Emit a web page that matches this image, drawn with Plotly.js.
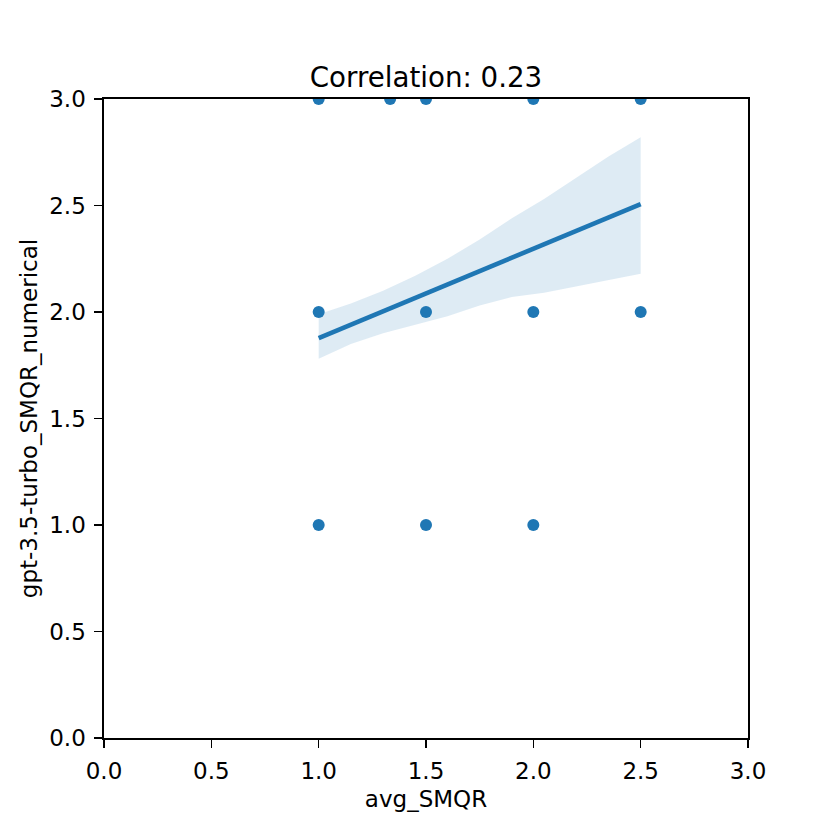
<!DOCTYPE html>
<html>
<head>
<meta charset="utf-8">
<script src="https://cdn.plot.ly/plotly-3.0.1.min.js"></script>
<style>
  html, body { margin: 0; padding: 0; background: #fff; }
  #chart { width: 830px; height: 830px; }
</style>
</head>
<body>
<div id="chart"></div>
<script>
// scatter points (avg_SMQR vs gpt-3.5-turbo_SMQR_numerical)
var pointX = [1.0, 1.333, 1.5, 2.0, 2.5, 1.0, 1.5, 2.0, 2.5, 1.0, 1.5, 2.0];
var pointY = [3, 3, 3, 3, 3, 2, 2, 2, 2, 1, 1, 1];

// regression line
var lineX = [1.0, 2.5];
var lineY = [1.877, 2.507];

// confidence band
var bandX = [1.0, 1.15, 1.3, 1.45, 1.6, 1.75, 1.9, 2.05, 2.2, 2.35, 2.5];
var bandUpper = [1.99, 2.04, 2.10, 2.17, 2.25, 2.34, 2.44, 2.53, 2.63, 2.73, 2.82];
var bandLower = [1.78, 1.85, 1.90, 1.94, 1.98, 2.03, 2.07, 2.09, 2.12, 2.15, 2.18];

var titleText = "Correlation: 0.23";
var xLabel = "avg_SMQR";
var yLabel = "gpt-3.5-turbo_SMQR_numerical";

var blue = "#1f77b4";
var font = "DejaVu Sans, sans-serif";

var traces = [
    {
        x: bandX, y: bandLower, type: "scatter", mode: "lines",
        line: { width: 0 }, hoverinfo: "skip", showlegend: false
    },
    {
        x: bandX, y: bandUpper, type: "scatter", mode: "lines",
        line: { width: 0 }, fill: "tonexty",
        fillcolor: "rgba(31,119,180,0.15)", showlegend: false
    },
    {
        x: pointX, y: pointY, type: "scatter", mode: "markers",
        cliponaxis: true,
        marker: { color: blue, size: 12 }, showlegend: false
    },
    {
        x: lineX, y: lineY, type: "scatter", mode: "lines",
        line: { color: blue, width: 4.6 }, showlegend: false
    }
];

function axis(label, standoff) {
    return {
        range: [0, 3],
        tickvals: [0, 0.5, 1, 1.5, 2, 2.5, 3],
        tickformat: ".1f",
        ticks: "outside",
        ticklen: 8,
        tickwidth: 1.6,
        tickcolor: "#000",
        ticklabelstandoff: 4,
        showline: true,
        linecolor: "#000",
        linewidth: 1.6,
        mirror: true,
        showgrid: false,
        zeroline: false,
        tickfont: { family: font, size: 23, color: "#000" },
        title: { text: label, standoff: standoff, font: { family: font, size: 23, color: "#000" } }
    };
}

var layout = {
    width: 830,
    height: 830,
    margin: { l: 104, r: 82, t: 99, b: 92 },
    paper_bgcolor: "#fff",
    plot_bgcolor: "#fff",
    title: {
        text: titleText,
        font: { family: font, size: 27.7, color: "#000" },
        x: 0.5, xref: "paper", xanchor: "center",
        y: 1, yref: "paper", yanchor: "bottom",
        pad: { b: 12 }
    },
    xaxis: axis(xLabel, 7),
    yaxis: axis(yLabel, 5),
    showlegend: false
};

Plotly.newPlot("chart", traces, layout, { staticPlot: true });
</script>
</body>
</html>
